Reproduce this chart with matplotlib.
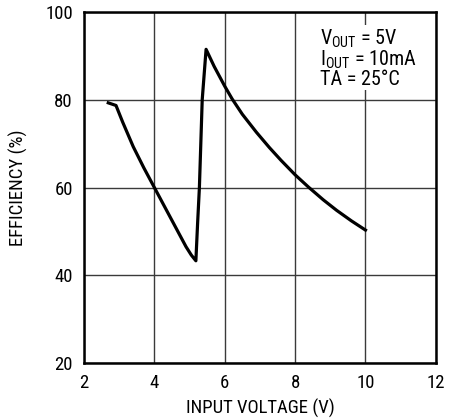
import matplotlib
matplotlib.use("Agg")
import matplotlib.pyplot as plt
from matplotlib import font_manager as fm

# 字体：窄体Helvetica风格，有Liberation Sans Narrow就用
names = {f.name for f in fm.fontManager.ttflist}
FONT = "Liberation Sans Narrow" if "Liberation Sans Narrow" in names else "Roboto Condensed" if "Roboto Condensed" in names else "DejaVu Sans"
plt.rcParams["font.family"] = [FONT, "DejaVu Sans"]
plt.rcParams["mathtext.fontset"] = "custom"
plt.rcParams["mathtext.rm"] = FONT

# 曲线数据
vin = [2.69, 2.91, 3.10, 3.40, 3.70, 4.00, 4.28, 4.54, 4.90, 5.05, 5.18,
       5.23, 5.28, 5.32, 5.36, 5.47,
       5.70, 6.00, 6.21, 6.50, 6.90, 7.27, 7.60, 8.00, 8.38, 8.80, 9.18, 9.60, 10.0]
eff = [79.3, 78.7, 74.9, 69.3, 64.5, 60.0, 55.8, 51.9, 46.5, 44.6, 43.3,
       52.0, 60.0, 70.0, 80.0, 91.5,
       87.6, 83.1, 80.2, 76.7, 72.6, 69.1, 66.2, 62.9, 60.1, 57.2, 54.8, 52.4, 50.3]

x_ticks = [2, 4, 6, 8, 10, 12]
y_ticks = [20, 40, 60, 80, 100]

fig = plt.figure(figsize=(4.54, 4.18), dpi=100)
ax = fig.add_axes([0.185, 0.1316, 0.775, 0.8396])
ax.plot(vin, eff, color="black", lw=2.3, solid_joinstyle="round")
ax.set_xlim(2, 12); ax.set_ylim(20, 100)
ax.set_xticks(x_ticks); ax.set_yticks(y_ticks)
ax.grid(True, color="#3a3a3a", lw=1.0)
ax.tick_params(length=0, labelsize=13.5, pad=8)
for s in ax.spines.values():
    s.set_linewidth(1.8)
ax.set_xlabel("INPUT VOLTAGE (V)", fontsize=13.5, labelpad=5)
ax.set_ylabel("EFFICIENCY (%)", fontsize=13.5, labelpad=12)

ax.text(0.672, 0.955, "V$_{\\mathregular{OUT}}$ = 5V\nI$_{\\mathregular{OUT}}$ = 10mA\nTA = 25°C",
        transform=ax.transAxes, va="top", ha="left", fontsize=14.5, linespacing=0.92,
        bbox=dict(facecolor="white", edgecolor="none", pad=1))

fig.savefig("out.png", dpi=100)
